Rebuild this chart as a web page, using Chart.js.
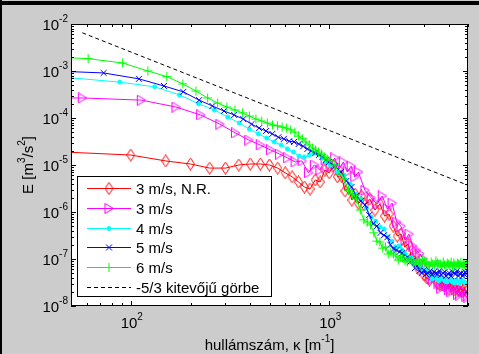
<!DOCTYPE html>
<html>
<head>
<meta charset="utf-8">
<script src="https://cdn.jsdelivr.net/npm/chart.js@4.4.1/dist/chart.umd.min.js"></script>
<style>
html,body{margin:0;padding:0;background:#ccc}
canvas{display:block}
</style>
</head>
<body>
<canvas id="spec" width="479" height="354"></canvas>
<script>
// wavenumber k [1/m] and spectrum E [m^3/s^2]
const kRed = [40,100,150,200,250,300,350,400,450,500,550,600,650,700,750,800,850,900,950,1000,1050,1100,1150,1200,1250,1300,1350,1400,1450,1500,1600,1700,1800,1900,2000,2100,2200,2300,2400,2500,2600,2700,2800,2900,3000,3100,3200,3300,3400,3500,3600,3700,3800,3900,4000,4100,4200,4300,4400,4500,4600,4700,4800,4900,5000];
const eRed = [1.94e-5,1.63e-5,1.22e-5,1.05e-5,8.6e-6,8.6e-6,1.0e-5,1.05e-5,1.05e-5,1.0e-5,8.6e-6,6.8e-6,5.6e-6,4.35e-6,3.4e-6,3.08e-6,4.8e-6,4.35e-6,7.8e-6,6.8e-6,1.0e-5,5.6e-6,5.8e-6,2.8e-6,3.24e-6,1.8e-6,2.4e-6,1.55e-6,2.19e-6,1.41e-6,1.9e-6,1.1e-6,1.48e-6,8.2e-7,9.06e-7,5.0e-7,3.08e-7,3.4e-7,1.8e-7,2.09e-7,1.05e-7,1.16e-7,6.4e-8,7.45e-8,4.6e-8,3.95e-8,3.57e-8,4.35e-8,3.95e-8,3.08e-8,2.8e-8,3.4e-8,2.67e-8,3.08e-8,2.3e-8,2.94e-8,2.8e-8,2.19e-8,2.67e-8,2.09e-8,2.54e-8,1.99e-8,2.4e-8,1.99e-8,2.3e-8];

const kMag = [40,57,113,169,225,281,337,393,449,505,561,617,673,729,785,841,897,953,1009,1065,1121,1177,1233,1289,1345,1401,1513,1625,1737,1849,1961,2073,2185,2297,2409,2521,2633,2745,2857,2969,3081,3193,3305,3417,3529,3641,3753,3865,3977,4089,4201,4313,4425,4537,4649,4761,4873,4985];
const eMag = [2.67e-4,2.67e-4,2.4e-4,1.71e-4,1.16e-4,7.4e-5,4.8e-5,3.4e-5,2.67e-5,2.1e-5,1.71e-5,1.41e-5,1.16e-5,1.22e-5,6.8e-6,1.0e-5,7.8e-6,1.28e-5,9.1e-6,1.41e-5,8.2e-6,1.16e-5,7.1e-6,9.5e-6,5.6e-6,7.1e-6,2.9e-6,2.0e-6,1.48e-6,2.19e-6,1.16e-6,1.55e-6,6.1e-7,5.0e-7,2.5e-7,3.4e-7,1.89e-7,1.55e-7,1.3e-7,1.0e-7,7.1e-8,4.35e-8,3.75e-8,4.1e-8,3.08e-8,2.4e-8,2.8e-8,2.67e-8,2.19e-8,1.99e-8,2.54e-8,2.19e-8,1.8e-8,1.71e-8,2.09e-8,1.99e-8,1.63e-8,1.55e-8];

const kCyan = [44,88,132,176,220,264,308,352,396,440,484,528,572,616,660,704,748,792,836,880,924,968,1012,1100,1188,1276,1364,1452,1540,1628,1716,1804,1892,1980,2068,2156,2244,2332,2420,2508,2596,2684,2772,2860,2948,3036,3124,3212,3300,3388,3476,3564,3652,3740,3828,3916,4004,4092,4180,4268,4356,4444,4532,4620,4708,4796,4884,4972];
const eCyan = [7.5e-4,5.8e-4,4.6e-4,3.1e-4,2.0e-4,1.48e-4,1.05e-4,7.8e-5,5.8e-5,4.6e-5,3.75e-5,3.1e-5,2.67e-5,2.2e-5,1.89e-5,1.55e-5,1.48e-5,1.63e-5,1.8e-5,1.71e-5,1.41e-5,1.16e-5,1.0e-5,7.1e-6,6.1e-6,3.9e-6,2.4e-6,1.9e-6,1.22e-6,7.8e-7,6.4e-7,4.8e-7,4.35e-7,2.9e-7,2.4e-7,1.8e-7,1.89e-7,1.55e-7,1.28e-7,1.05e-7,1.05e-7,8.2e-8,7.1e-8,7.8e-8,6.1e-8,5.8e-8,5.3e-8,4.35e-8,3.75e-8,4.35e-8,3.75e-8,3.4e-8,4.1e-8,3.75e-8,3.4e-8,3.24e-8,3.75e-8,3.57e-8,3.24e-8,3.08e-8,3.57e-8,3.4e-8,3.08e-8,3.57e-8,3.4e-8,3.24e-8,2.95e-8,3.08e-8];

const kBlue = [36,73,110,147,184,221,258,295,332,369,406,443,480,517,554,591,628,665,702,739,776,813,850,887,924,961,998,1072,1146,1220,1294,1368,1442,1516,1590,1664,1738,1812,1886,1960,2034,2108,2182,2256,2330,2404,2478,2552,2626,2700,2774,2848,2922,2996,3070,3144,3218,3292,3366,3440,3514,3588,3662,3736,3810,3884,3958,4032,4106,4180,4254,4328,4402,4476,4550,4624,4698,4772,4846,4920];
const eBlue = [1.02e-3,9.1e-4,6.8e-4,4.8e-4,3.6e-4,2.4e-4,1.8e-4,1.41e-4,1.16e-4,9.5e-5,7.4e-5,6.1e-5,5.3e-5,4.6e-5,3.9e-5,3.6e-5,3.2e-5,3.1e-5,2.8e-5,2.5e-5,2.2e-5,2.0e-5,1.8e-5,1.63e-5,1.48e-5,1.28e-5,1.16e-5,9.5e-6,7.1e-6,4.6e-6,3.4e-6,2.19e-6,1.71e-6,1.41e-6,8.6e-7,5.6e-7,5.0e-7,3.6e-7,3.2e-7,2.9e-7,2.0e-7,1.63e-7,1.55e-7,1.41e-7,1.34e-7,1.0e-7,1.1e-7,8.6e-8,9.1e-8,6.4e-8,7.1e-8,5.6e-8,5.0e-8,5.8e-8,4.8e-8,5.0e-8,5.6e-8,4.6e-8,5.3e-8,5.0e-8,4.8e-8,5.6e-8,4.6e-8,5.0e-8,5.3e-8,4.35e-8,4.8e-8,5.0e-8,4.35e-8,5.3e-8,5.0e-8,4.8e-8,5.6e-8,4.35e-8,4.8e-8,5.0e-8,4.35e-8,4.8e-8,5.3e-8,4.8e-8];

const kGreen = [30.5,61,91,122,152,183,213,244,274,305,335,366,396,427,457,488,518,549,579,610,640,671,701,732,762,793,823,854,884,915,945,976,1006,1067,1128,1189,1250,1311,1372,1433,1494,1555,1616,1677,1738,1799,1860,1921,1982,2043,2104,2165,2226,2287,2348,2409,2470,2531,2592,2653,2714,2775,2836,2897,2958,3019,3080,3141,3202,3263,3324,3385,3446,3507,3568,3629,3690,3751,3812,3873,3934,3995,4056,4117,4178,4239,4300,4361,4422,4483,4544,4605,4666,4727,4788,4849,4910,4971];
const eGreen = [2.1e-3,1.83e-3,1.48e-3,1.0e-3,7.6e-4,5.3e-4,3.75e-4,2.67e-4,2.08e-4,1.71e-4,1.48e-4,1.28e-4,1.1e-4,9.5e-5,8.6e-5,7.8e-5,7.1e-5,6.8e-5,6.4e-5,6.1e-5,5.6e-5,5.0e-5,4.1e-5,3.6e-5,3.1e-5,2.67e-5,2.3e-5,2.09e-5,1.89e-5,1.71e-5,1.48e-5,1.34e-5,1.22e-5,1.0e-5,6.4e-6,5.0e-6,2.9e-6,2.4e-6,1.9e-6,1.1e-6,6.8e-7,6.1e-7,5.3e-7,3.6e-7,2.4e-7,2.3e-7,1.7e-7,1.8e-7,1.28e-7,1.4e-7,1.28e-7,1.16e-7,9.5e-8,1.1e-7,1.05e-7,9.1e-8,8.6e-8,1.05e-7,9.5e-8,8.2e-8,7.8e-8,9.5e-8,8.6e-8,7.8e-8,1.0e-7,8.6e-8,8.2e-8,7.5e-8,7.1e-8,8.6e-8,7.8e-8,7.1e-8,9.1e-8,8.2e-8,7.8e-8,7.8e-8,6.8e-8,8.6e-8,7.5e-8,7.1e-8,8.2e-8,7.8e-8,7.5e-8,8.6e-8,6.8e-8,8.2e-8,7.5e-8,7.1e-8,8.2e-8,7.8e-8,7.5e-8,8.6e-8,6.8e-8,8.2e-8,7.5e-8,7.1e-8,7.8e-8,8.2e-8];

// -5/3 reference line, two end points
const kRef = [57,5000];
const eRef = [6.5e-3,3.7e-6];

const labels = ['3 m/s, N.R.','3 m/s','4 m/s','5 m/s','6 m/s','-5/3 kitevőjű görbe'];
const xDecades = [2,3];
const yDecades = [-8,-7,-6,-5,-4,-3,-2];

const BASE = '15px "Liberation Sans", Arial, sans-serif';
const SMALL = '10px "Liberation Sans", Arial, sans-serif';

// open marker shapes like the MATLAB ones
function diamond(){
  const c = document.createElement('canvas'); c.width = 9; c.height = 13;
  const g = c.getContext('2d'); g.strokeStyle = '#ff0000'; g.lineWidth = 1;
  g.beginPath(); g.moveTo(4.5,0.5); g.lineTo(8.5,6.5); g.lineTo(4.5,12.5); g.lineTo(0.5,6.5); g.closePath(); g.stroke();
  return c;
}
function triRight(){
  const c = document.createElement('canvas'); c.width = 11; c.height = 11;
  const g = c.getContext('2d'); g.strokeStyle = '#ff00ff'; g.lineWidth = 1;
  g.beginPath(); g.moveTo(1.5,0.5); g.lineTo(10,5.5); g.lineTo(1.5,10.5); g.closePath(); g.stroke();
  return c;
}

const pts = (k, e) => k.map((v, i) => ({x: v, y: e[i]}));

const datasets = [
  {data: pts(kRed, eRed), borderColor: '#ff0000', pointStyle: diamond(), pointRadius: 5, order: 6},
  {data: pts(kMag, eMag), borderColor: '#ff00ff', pointStyle: triRight(), pointRadius: 5, order: 5},
  {data: pts(kCyan, eCyan), borderColor: '#00ffff', pointBackgroundColor: '#00ffff', pointStyle: 'circle', pointRadius: 2, order: 4},
  {data: pts(kBlue, eBlue), borderColor: '#0000ff', pointStyle: 'crossRot', pointRadius: 4.2, order: 3},
  {data: pts(kGreen, eGreen), borderColor: '#00ff00', pointStyle: 'cross', pointRadius: 4.5, order: 2},
  {data: pts(kRef, eRef), borderColor: '#000000', borderDash: [4,3], pointRadius: 0, order: 1}
].map((d, i) => Object.assign({
  label: labels[i], borderWidth: 1, pointBorderWidth: 1, pointBorderColor: d.borderColor,
  pointBackgroundColor: 'rgba(0,0,0,0)', fill: false, tension: 0
}, d));

// draws "10" + raised exponent and similar mixed text
function mixed(ctx, parts, x, y, align){
  let w = 0;
  const ws = parts.map(p => { ctx.font = p[1] ? SMALL : BASE; const m = ctx.measureText(p[0]).width; w += m; return m; });
  let cx = align === 'right' ? x - w : align === 'center' ? x - w / 2 : x;
  parts.forEach((p, i) => { ctx.font = p[1] ? SMALL : BASE; ctx.fillText(p[0], cx, p[1] ? y - 8 : y); cx += ws[i]; });
}

const matlabAxes = {
  id: 'matlabAxes',
  beforeDraw(chart){
    const c = chart.ctx, a = chart.chartArea;
    c.save();
    c.fillStyle = '#cccccc'; c.fillRect(0, 0, chart.width, chart.height);
    c.fillStyle = '#000'; c.fillRect(0, 1, chart.width, 4); c.fillRect(0, 0, 2, chart.height);
    c.fillStyle = '#fff'; c.fillRect(a.left, a.top, a.right - a.left, a.bottom - a.top);
    c.restore();
  },
  afterDatasetsDraw(chart){
    const c = chart.ctx, a = chart.chartArea, xs = chart.scales.x, ys = chart.scales.y;
    c.save();
    c.strokeStyle = '#000'; c.lineWidth = 1;
    c.beginPath();
    // x ticks, top and bottom, pointing in
    for (let d = 1; d <= 3; d++) for (let m = 1; m <= 9; m++) {
      const v = m * Math.pow(10, d);
      if (v < 50 || v > 5000) continue;
      const x = Math.round(xs.getPixelForValue(v)) + 0.5, len = m === 1 ? 5 : 3;
      c.moveTo(x, a.bottom); c.lineTo(x, a.bottom - len);
      c.moveTo(x, a.top); c.lineTo(x, a.top + len);
    }
    // y ticks, left and right
    for (let d = -8; d <= -2; d++) for (let m = 1; m <= 9; m++) {
      const v = m * Math.pow(10, d);
      if (v > 1.0001e-2) continue;
      const y = Math.round(ys.getPixelForValue(v)) + 0.5, len = m === 1 ? 5 : 3;
      c.moveTo(a.left, y); c.lineTo(a.left + len, y);
      c.moveTo(a.right, y); c.lineTo(a.right - len, y);
    }
    c.stroke();
    c.strokeRect(a.left + 0.5, a.top + 0.5, a.right - a.left - 1, a.bottom - a.top - 1);

    // tick labels
    c.fillStyle = '#000'; c.textBaseline = 'alphabetic';
    yDecades.forEach(n => mixed(c, [['10', 0], [String(n), 1]], a.left - 3, ys.getPixelForValue(Math.pow(10, n)) + 6, 'right'));
    xDecades.forEach(n => mixed(c, [['10', 0], [String(n), 1]], xs.getPixelForValue(Math.pow(10, n)) + 1, 328, 'center'));

    // axis titles
    mixed(c, [['hullámszám, κ [m', 0], ['-1', 1], [']', 0]], (a.left + a.right) / 2, 350, 'center');
    c.save();
    c.translate(33, (a.top + a.bottom) / 2); c.rotate(-Math.PI / 2);
    mixed(c, [['E [m', 0], ['3', 1], ['/s', 0], ['2', 1], [']', 0]], 0, 0, 'center');
    c.restore();

    // legend box
    const lx = 77, ly = 176, lw = 195, lh = 121;
    c.fillStyle = '#fff'; c.fillRect(lx, ly, lw, lh);
    c.strokeRect(lx + 0.5, ly + 0.5, lw - 1, lh - 1);
    datasets.forEach((d, i) => {
      const y = Math.round(188 + i * 19.8) + 0.5;
      c.strokeStyle = d.borderColor; c.lineWidth = 1;
      c.setLineDash(d.borderDash || []);
      c.beginPath(); c.moveTo(87, y); c.lineTo(131, y); c.stroke();
      c.setLineDash([]);
      if (d.pointRadius > 0 && Chart.helpers && Chart.helpers.drawPoint) {
        c.fillStyle = d.pointBackgroundColor;
        Chart.helpers.drawPoint(c, {pointStyle: d.pointStyle, radius: d.pointRadius, rotation: 0, borderWidth: 1}, 109, y);
      }
      c.fillStyle = '#000'; c.font = BASE;
      c.fillText(d.label, 136, y + 5);
    });
    c.restore();
  }
};

new Chart(document.getElementById('spec'), {
  type: 'line',
  data: {datasets: datasets},
  options: {
    responsive: false, animation: false, devicePixelRatio: 1,
    layout: {padding: {left: 71, top: 24, right: 11, bottom: 48}},
    plugins: {legend: {display: false}, tooltip: {enabled: false}},
    scales: {
      x: {type: 'logarithmic', min: 50, max: 5000, display: false},
      y: {type: 'logarithmic', min: 1e-8, max: 1e-2, display: false}
    }
  },
  plugins: [matlabAxes]
});
</script>
</body>
</html>
